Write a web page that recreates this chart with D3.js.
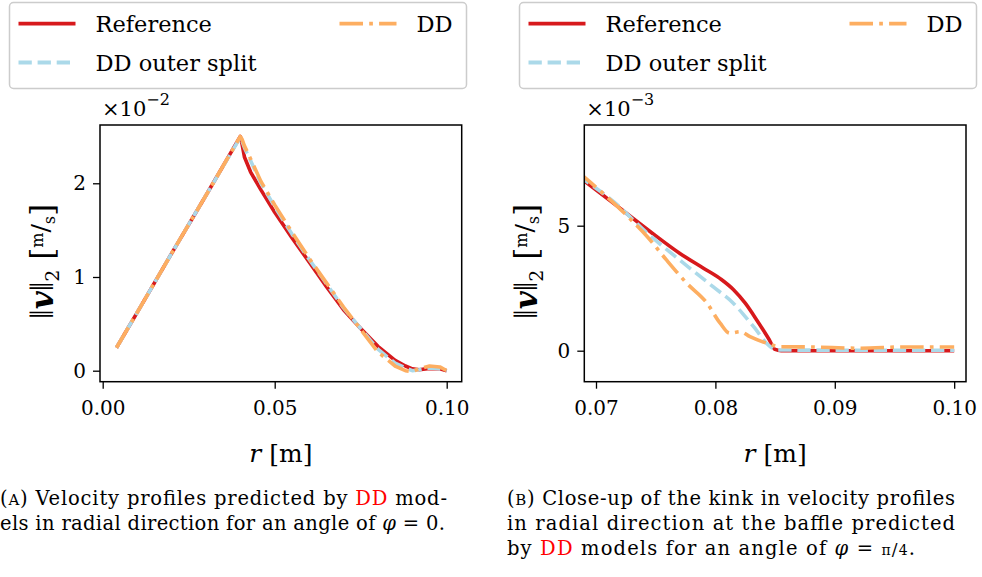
<!DOCTYPE html>
<html><head><meta charset="utf-8">
<script src="https://cdn.jsdelivr.net/npm/d3@7"></script>
<style>
html,body{margin:0;padding:0;background:#fff;}
svg{display:block;}
text{font-family:"DejaVu Serif",serif;fill:#000;}
</style></head>
<body>
<script>
// ---------- data ----------
// Panel A: phi = 0 (values in 1e-2 m/s)
const rA    = [0.004,0.010,0.020,0.030,0.040,0.0405,0.0412,0.043,0.046,0.050,0.055,0.060,0.065,0.070,0.075,0.080,0.085,0.088,0.090,0.092,0.095,0.098,0.100];
const refA  = [0.245,0.62,1.25,1.87,2.50,2.42,2.28,2.12,1.93,1.69,1.42,1.16,0.90,0.65,0.45,0.26,0.11,0.05,0.02,0.01,0.025,0.02,0.0];
const ddoA  = [0.245,0.62,1.25,1.87,2.49,2.45,2.38,2.24,2.00,1.75,1.46,1.19,0.93,0.67,0.45,0.23,0.08,0.03,0.00,0.01,0.03,0.02,0.0];
const ddA   = [0.245,0.62,1.25,1.87,2.50,2.47,2.40,2.26,2.02,1.77,1.48,1.20,0.94,0.68,0.44,0.20,0.05,0.00,-0.01,0.02,0.05,0.04,0.0];
// Panel B: phi = pi/4, close-up (values in 1e-3 m/s)
const rBref = [0.0685,0.069,0.072,0.0745,0.077,0.079,0.0805,0.0815,0.0825,0.0835,0.0845,0.085,0.0855,0.090,0.095,0.100];
const refB  = [6.98,6.80,5.70,4.78,3.90,3.30,2.85,2.45,1.90,1.20,0.45,0.05,0.0,0.0,0.0,0.0];
const rBddo = [0.0685,0.069,0.0715,0.0743,0.077,0.0798,0.0815,0.0832,0.0846,0.0852,0.090,0.095,0.100];
const ddoB  = [7.03,6.85,5.95,4.70,3.63,2.56,1.90,0.96,0.16,0.03,0.02,0.02,0.02];
const rBdd  = [0.0685,0.069,0.0712,0.0731,0.0743,0.0759,0.0776,0.0793,0.0804,0.0812,0.0821,0.0829,0.0843,0.0854,0.088,0.092,0.096,0.100];
const ddB   = [7.15,6.95,6.03,5.16,4.56,3.63,2.70,1.90,1.10,0.70,0.76,0.56,0.30,0.16,0.15,0.10,0.15,0.15];

const xTicksA = [0,0.05,0.10], xTickLabelsA = ["0.00","0.05","0.10"];
const yTicksA = [0,1,2],       yTickLabelsA = ["0","1","2"];
const xTicksB = [0.07,0.08,0.09,0.10], xTickLabelsB = ["0.07","0.08","0.09","0.10"];
const yTicksB = [0,5],         yTickLabelsB = ["0","5"];
const legendNames = ["Reference","DD outer split","DD"];
const colors = {ref:"#d7191c", ddo:"#abd9e9", dd:"#fdae61"};

// ---------- drawing ----------
const W=982,H=577;
const svg=d3.select("body").append("svg").attr("width",W).attr("height",H);

function panel(o){
  const g=svg.append("g");
  const x=d3.scaleLinear().domain(o.xd).range([o.x0,o.x1]);
  const y=d3.scaleLinear().domain(o.yd).range([o.y1,o.y0]);
  const cid="clip"+o.id;
  svg.append("defs").append("clipPath").attr("id",cid).append("rect")
     .attr("x",o.x0).attr("y",o.y0).attr("width",o.x1-o.x0).attr("height",o.y1-o.y0);
  const line=d3.line().x(d=>x(d[0])).y(d=>y(d[1])).curve(o.curve);
  const lg=g.append("g").attr("clip-path",`url(#${cid})`);
  o.series.forEach(s=>{
    lg.append("path").datum(d3.zip(s.r,s.v)).attr("d",line)
      .attr("fill","none").attr("stroke",s.c).attr("stroke-width",3.6)
      .attr("stroke-dasharray",s.dash||null).attr("stroke-linejoin","round");
  });
  // axes
  const xa=d3.axisBottom(x).tickValues(o.xt).tickFormat((d,i)=>o.xl[i]).tickSize(7).tickPadding(7);
  const ya=d3.axisLeft(y).tickValues(o.yt).tickFormat((d,i)=>o.yl[i]).tickSize(7).tickPadding(7);
  const gx=g.append("g").attr("transform",`translate(0,${o.y1})`).call(xa);
  const gy=g.append("g").attr("transform",`translate(${o.x0},0)`).call(ya);
  [gx,gy].forEach(a=>{
    a.select(".domain").remove();
    a.selectAll("line").attr("stroke","#000").attr("stroke-width",1.3);
    a.selectAll("text").attr("font-family","DejaVu Serif").attr("font-size",20).attr("fill","#000");
  });
  gx.selectAll("text").attr("dy","0.95em");
  g.append("rect").attr("x",o.x0).attr("y",o.y0).attr("width",o.x1-o.x0).attr("height",o.y1-o.y0)
    .attr("fill","none").attr("stroke","#000").attr("stroke-width",1.5);
  // multiplier
  const m=g.append("text").attr("x",o.x0+2).attr("y",116).attr("font-size",21);
  m.append("tspan").text("×10");
  m.append("tspan").attr("dy",-11).attr("font-size",16).text("−"+o.exp);
  // x label
  const xl=g.append("text").attr("x",(o.x0+o.x1)/2).attr("y",462).attr("text-anchor","middle").attr("font-size",25);
  xl.append("tspan").attr("font-style","italic").text("r");
  xl.append("tspan").text(" [m]");
  // y label
  const yl=g.append("text").attr("transform",`translate(${o.ylx},${(o.y0+o.y1)/2+8}) rotate(-90)`)
     .attr("text-anchor","middle").attr("font-size",31);
  yl.append("tspan").attr("font-family","Liberation Serif").attr("font-size",34).text("‖");
  yl.append("tspan").attr("font-weight","bold").attr("font-style","italic").text("v");
  yl.append("tspan").attr("font-family","Liberation Serif").attr("font-size",34).text("‖");
  yl.append("tspan").attr("font-size",19).attr("dy",6).text("2");
  yl.append("tspan").attr("dy",-6).text(" [");
  yl.append("tspan").attr("font-size",16).attr("dy",-10).text("m");
  yl.append("tspan").attr("font-size",25).attr("dy",6).text("/");
  yl.append("tspan").attr("font-size",16).attr("dy",6).text("s");
  yl.append("tspan").attr("dy",-2).text("]");
  // legend
  const L=svg.append("g").attr("transform",`translate(${o.lx},0)`);
  L.append("rect").attr("x",0).attr("y",2.5).attr("width",457).attr("height",86).attr("rx",4)
    .attr("fill","#fff").attr("stroke","#cccccc").attr("stroke-width",1.5);
  const items=[{n:legendNames[0],c:colors.ref,d:null,x:9,y:23.7},
               {n:legendNames[1],c:colors.ddo,d:"13.3,5.8",x:9,y:62.5},
               {n:legendNames[2],c:colors.dd,d:"23.5,6.2,3.7,6.2",x:330,y:23.7}];
  items.forEach(it=>{
    L.append("line").attr("x1",it.x).attr("x2",it.x+57).attr("y1",it.y).attr("y2",it.y)
      .attr("stroke",it.c).attr("stroke-width",3.8).attr("stroke-dasharray",it.d);
    L.append("text").attr("x",it.x+77).attr("y",it.y+8).attr("font-size",22.5).text(it.n);
  });
}

panel({id:"A",x0:100,x1:461.7,y0:125,y1:381.7,xd:[-0.000785,0.10436],yd:[-0.1174,2.622],
  xt:xTicksA,xl:xTickLabelsA,yt:yTicksA,yl:yTickLabelsA,exp:"2",ylx:53,lx:9.5,curve:d3.curveLinear,
  series:[{r:rA,v:refA,c:colors.ref},{r:rA,v:ddoA,c:colors.ddo,dash:"13.3,5.8"},{r:rA,v:ddA,c:colors.dd,dash:"23.5,6.2,3.7,6.2"}]});
panel({id:"B",x0:584.3,x1:966,y0:125,y1:381.7,xd:[0.06902,0.10099],yd:[-1.24,9.028],
  xt:xTicksB,xl:xTickLabelsB,yt:yTicksB,yl:yTickLabelsB,exp:"3",ylx:537,lx:519.5,curve:d3.curveMonotoneX,
  series:[{r:rBref,v:refB,c:colors.ref},{r:rBddo,v:ddoB,c:colors.ddo,dash:"13.3,5.8"},{r:rBdd,v:ddB,c:colors.dd,dash:"23.5,6.2,3.7,6.2"}]});

// captions
function cap(x,y,parts,len){
  const t=svg.append("text").attr("x",x).attr("y",y).attr("font-size",19.5);
  if(len){t.attr("textLength",len).attr("lengthAdjust","spacing");}
  parts.forEach(p=>{const s=t.append("tspan").text(p.t); if(p.red) s.attr("fill","#ff0000"); if(p.fs) s.attr("font-size",p.fs); if(p.it) s.attr("font-style","italic");});
}
cap(0,505,[{t:"("},{t:"A",fs:15},{t:") Velocity profiles predicted by "},{t:"DD",red:1},{t:" mod-"}],447);
cap(0,530,[{t:"els in radial direction for an angle of "},{t:"φ",it:1},{t:" = 0."}],445);
cap(507,505,[{t:"("},{t:"B",fs:15},{t:") Close-up of the kink in velocity profiles"}],448);
cap(507,530,[{t:"in radial direction at the baffle predicted"}],448);
cap(507,555,[{t:"by "},{t:"DD",red:1},{t:" models for an angle of "},{t:"φ",it:1},{t:" = "},{t:"π",fs:14},{t:"/",fs:17},{t:"4",fs:14},{t:"."}],408);
</script>
</body></html>
